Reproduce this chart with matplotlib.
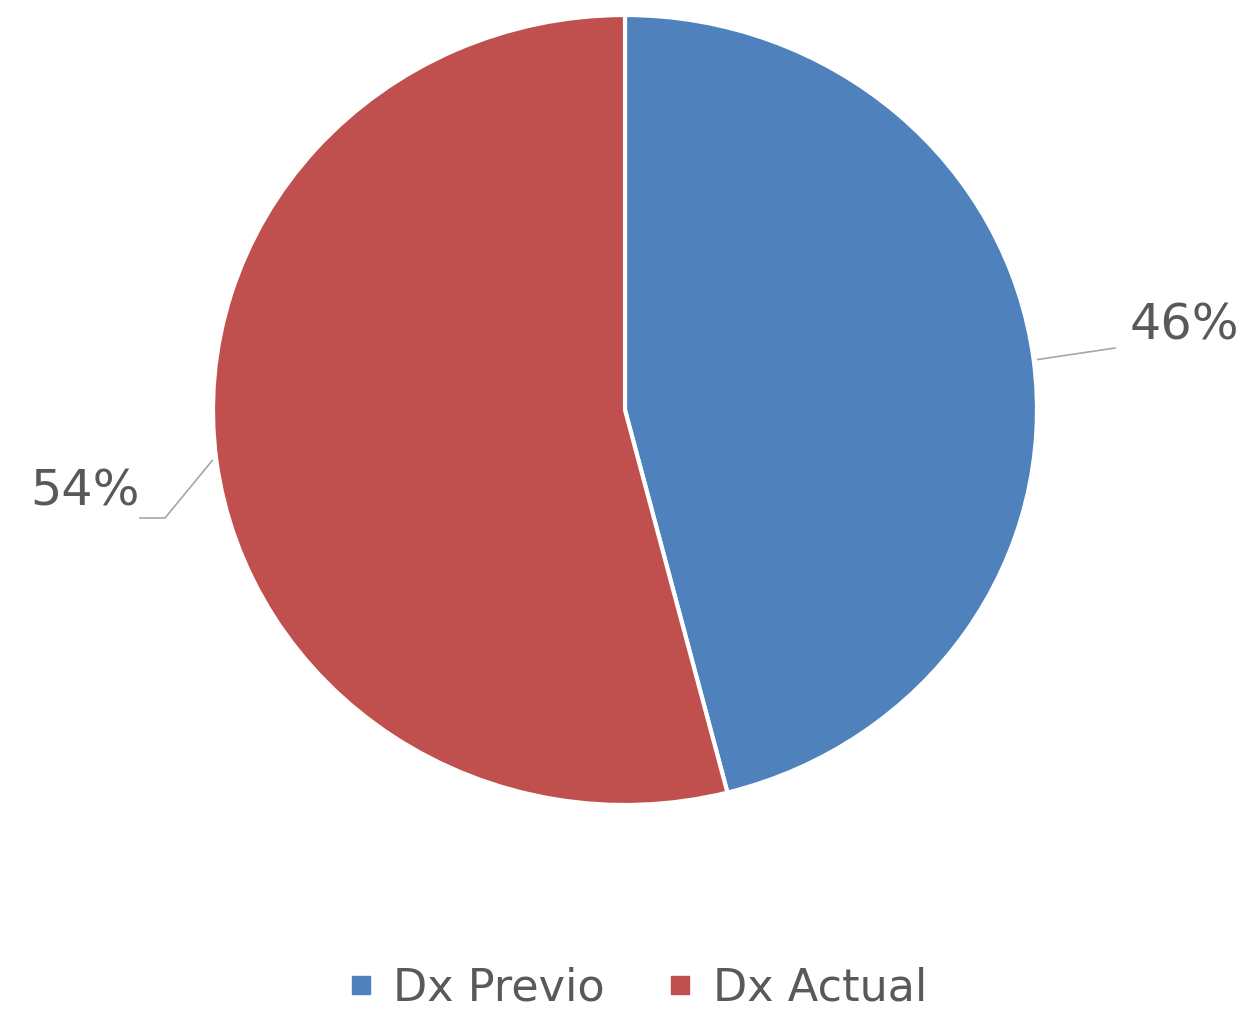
import matplotlib
matplotlib.use("Agg")
import matplotlib.pyplot as plt
from matplotlib.lines import Line2D
import numpy as np

categories = ["Dx Previo", "Dx Actual"]
values = [46, 54]
colors = ["#4F81BD", "#C0504D"]
labels = ["46%", "54%"]

W, H = 1249, 1010
fig = plt.figure(figsize=(W / 100, H / 100), dpi=100)
fig.patch.set_facecolor("white")

# pie bbox in pixels
px0, px1, py0, py1 = 213, 1037, 15, 805
ax = fig.add_axes([px0 / W, 1 - py1 / H, (px1 - px0) / W, (py1 - py0) / H])
wedges, _ = ax.pie(values, colors=colors, startangle=90, counterclock=False,
                   wedgeprops=dict(edgecolor="white", linewidth=3))
ax.set_aspect("auto")
ax.set_xlim(-1, 1)
ax.set_ylim(-1, 1)
ax.axis("off")

# overlay axes in pixel coords for labels
ov = fig.add_axes([0, 0, 1, 1])
ov.set_xlim(0, W)
ov.set_ylim(H, 0)
ov.axis("off")

cx, cy = (px0 + px1) / 2, (py0 + py1) / 2
rx, ry = (px1 - px0) / 2, (py1 - py0) / 2
gray = "#595959"
start = 90
for i, (v, lab) in enumerate(zip(values, labels)):
    mid = start - v * 360 / 100 / 2
    start -= v * 360 / 100
    a = np.deg2rad(mid)
    x0 = cx + rx * np.cos(a)
    y0 = cy - ry * np.sin(a)
    if np.cos(a) > 0:
        ov.plot([x0 + 4, 1115], [y0 - 1, 348], color="#A6A6A6", lw=1.2)
        ov.text(1130, 325, lab, fontsize=35.5, color=gray, ha="left", va="center",
                family="DejaVu Sans")
    else:
        ov.plot([x0 - 4, 165, 140], [y0 + 1, 518, 518], color="#A6A6A6", lw=1.2)
        ov.text(140, 492, lab, fontsize=35.5, color=gray, ha="right", va="center",
                family="DejaVu Sans")

handles = [Line2D([0], [0], marker="s", color="w", markerfacecolor=c,
                  markeredgecolor=c, markersize=13) for c in colors]
fig.legend(handles, categories, loc="center", bbox_to_anchor=(637 / W, 1 - 988 / H),
           ncol=2, frameon=False, fontsize=32, labelcolor=gray,
           handletextpad=0.43, columnspacing=1.4, handlelength=0.6)

fig.savefig("out.png", dpi=100, facecolor="white")
